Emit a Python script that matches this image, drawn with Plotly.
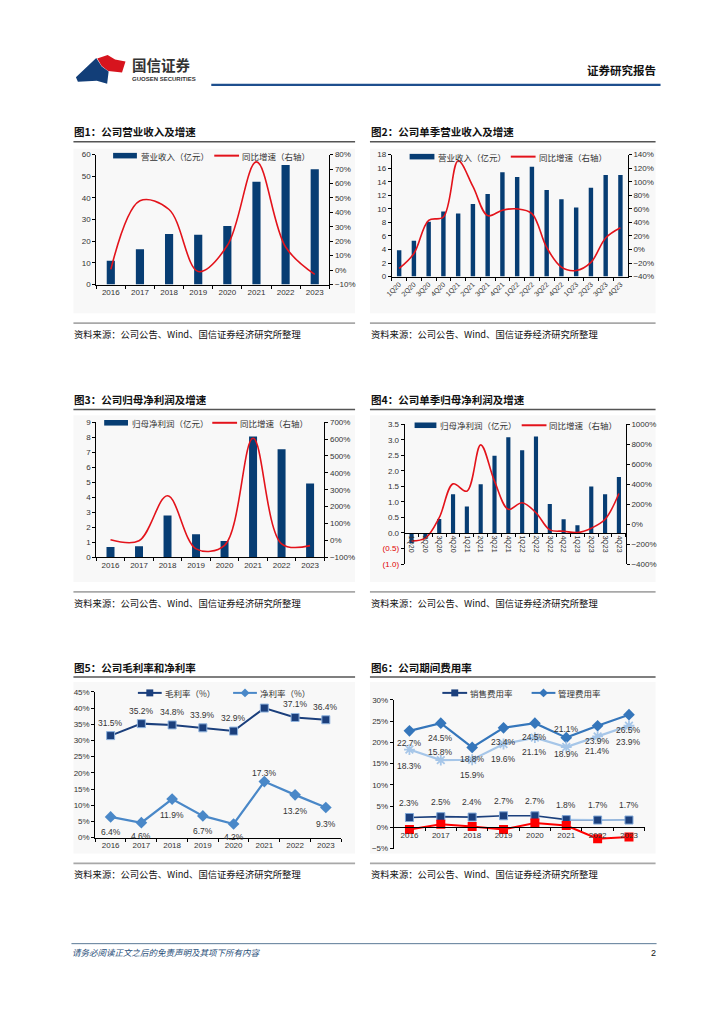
import plotly.graph_objects as go

W, H = 724, 1024
def X(p): return p / W
def Y(p): return 1 - p / H

# ---------------- data ----------------
years = ['2016', '2017', '2018', '2019', '2020', '2021', '2022', '2023']
revenue = [11.0, 16.3, 23.3, 23.0, 27.0, 47.5, 55.2, 53.3]
revenue_yoy = [0.5, 48, 42, -1, 17, 75, 16, -3]

quarters = ['1Q20', '2Q20', '3Q20', '4Q20', '1Q21', '2Q21', '3Q21', '4Q21',
            '1Q22', '2Q22', '3Q22', '4Q22', '1Q23', '2Q23', '3Q23', '4Q23']
q_revenue = [3.9, 5.3, 8.1, 9.6, 9.3, 10.7, 12.2, 15.4, 14.7, 16.2, 12.8, 11.4, 10.2, 13.1, 15.0, 15.0]
q_revenue_yoy = [-28, -6, 43, 48, 131, 93, 50, 58, 60, 53, 3, -26, -31, -19, 17, 32]

net_profit = [0.68, 0.72, 2.78, 1.52, 1.08, 8.05, 7.20, 4.92]
net_profit_yoy = [3, -3, 264, -51, -30, 605, -21, -32]

q_net_profit = [-0.32, -0.18, 0.45, 1.25, 0.85, 1.57, 2.49, 3.08,
                2.66, 3.11, 0.93, 0.44, 0.25, 1.50, 1.25, 1.80]
q_net_profit_yoy = [-168, -141, 64, 403, 330, 794, 430, 148,
                    214, 114, -58, -71, -85, -41, 48, 307]

gross_margin = [31.5, 35.2, 34.8, 33.9, 32.9, 40.0, 37.1, 36.4]
gross_label = ['31.5%', '35.2%', '34.8%', '33.9%', '32.9%', '', '37.1%', '36.4%']
net_margin = [6.4, 4.6, 11.9, 6.7, 4.2, 17.3, 13.2, 9.3]

sales_ratio = [2.3, 2.5, 2.4, 2.7, 2.7, 1.8, 1.7, 1.7]
admin_ratio = [22.7, 24.5, 18.8, 23.4, 24.5, 21.1, 23.9, 26.5]
admin_ex_rd_ratio = [18.3, 15.8, 15.9, 19.6, 21.1, 18.9, 21.4, 23.9]
fin_ratio = [-0.5, 0.7, 0.2, -0.5, 1.0, 0.4, -2.7, -2.3]

q_np_tickvals = [-1.0, -0.5, 0.0, 0.5, 1.0, 1.5, 2.0, 2.5, 3.0, 3.5]

# ---------------- styles ----------------
NAVY = '#073d73'
RED = '#e3131b'
CJK = 'Noto Sans CJK SC'
NUM = 'Liberation Sans, Arial, sans-serif'
TICKF = dict(family=NUM, size=8, color='#333333')

fig = go.Figure()

# chart 1
fig.add_trace(go.Bar(x=years, y=revenue, xaxis='x', yaxis='y', marker=dict(color=NAVY, line=dict(width=0)), width=0.28))
fig.add_trace(go.Scatter(x=years, y=revenue_yoy, xaxis='x', yaxis='y2', mode='lines',
                         line=dict(color=RED, width=1.6, shape='spline', smoothing=1.0)))
# chart 2
fig.add_trace(go.Bar(x=quarters, y=q_revenue, xaxis='x2', yaxis='y3', marker=dict(color=NAVY, line=dict(width=0)), width=0.3))
fig.add_trace(go.Scatter(x=quarters, y=q_revenue_yoy, xaxis='x2', yaxis='y4', mode='lines',
                         line=dict(color=RED, width=1.6, shape='spline', smoothing=1.0)))
# chart 3
fig.add_trace(go.Bar(x=years, y=net_profit, xaxis='x3', yaxis='y5', marker=dict(color=NAVY, line=dict(width=0)), width=0.28))
fig.add_trace(go.Scatter(x=years, y=net_profit_yoy, xaxis='x3', yaxis='y6', mode='lines',
                         line=dict(color=RED, width=1.6, shape='spline', smoothing=1.0)))
# chart 4
fig.add_trace(go.Bar(x=quarters, y=q_net_profit, xaxis='x4', yaxis='y7', marker=dict(color=NAVY, line=dict(width=0)), width=0.3))
fig.add_trace(go.Scatter(x=quarters, y=q_net_profit_yoy, xaxis='x4', yaxis='y8', mode='lines',
                         line=dict(color=RED, width=1.6, shape='spline', smoothing=1.0)))
# chart 5
fig.add_trace(go.Scatter(x=years, y=gross_margin, xaxis='x5', yaxis='y9', mode='lines+markers',
                         line=dict(color='#1b3f7c', width=2),
                         marker=dict(symbol='square', size=8, color='#1b3f7c', line=dict(color='#8fb3de', width=1))))
fig.add_trace(go.Scatter(x=years, y=net_margin, xaxis='x5', yaxis='y9', mode='lines+markers',
                         line=dict(color='#4a88c8', width=2.2),
                         marker=dict(symbol='diamond', size=9, color='#4a88c8')))
# chart 6
fig.add_trace(go.Scatter(x=years, y=admin_ratio, xaxis='x6', yaxis='y10', mode='lines+markers',
                         line=dict(color='#3576bb', width=2.2),
                         marker=dict(symbol='diamond', size=9, color='#3576bb')))
fig.add_trace(go.Scatter(x=years, y=admin_ex_rd_ratio, xaxis='x6', yaxis='y10', mode='lines+markers',
                         line=dict(color='#a6c6e8', width=2.2),
                         marker=dict(symbol='asterisk-open', size=9, color='#a6c6e8', line=dict(color='#a6c6e8', width=1.8))))
fig.add_trace(go.Scatter(x=years, y=sales_ratio, xaxis='x6', yaxis='y10', mode='lines',
                         line=dict(color='#1b3f7c', width=1.6)))
fig.add_trace(go.Scatter(x=years[5:], y=sales_ratio[5:], xaxis='x6', yaxis='y10', mode='lines',
                         line=dict(color='#a6c6e8', width=1.8)))
fig.add_trace(go.Scatter(x=years, y=sales_ratio, xaxis='x6', yaxis='y10', mode='markers',
                         marker=dict(symbol='square', size=8, color='#1b3f7c', line=dict(color='#7fa6d6', width=1))))
fig.add_trace(go.Scatter(x=years, y=fin_ratio, xaxis='x6', yaxis='y10', mode='lines+markers',
                         line=dict(color='#ff0000', width=2),
                         marker=dict(symbol='square', size=9, color='#ff0000')))


def xax(l, r, anchor, n, **kw):
    d = dict(domain=[X(l), X(r)], anchor=anchor, type='category', range=[-0.5, n - 0.5],
             showline=True, linecolor='#000000', linewidth=1, ticks='outside', tickson='boundaries',
             ticklen=3, tickcolor='#000000', showgrid=False, zeroline=False, tickfont=TICKF,
             fixedrange=True)
    d.update(kw)
    return d


def yax(top, bot, anchor, rng, dtick, **kw):
    d = dict(domain=[Y(bot), Y(top)], anchor=anchor, range=rng, dtick=dtick, tick0=rng[0],
             showline=True, linecolor='#000000', linewidth=1, ticks='outside', ticklen=3,
             tickcolor='#000000', showgrid=False, zeroline=False, tickfont=TICKF, fixedrange=True)
    d.update(kw)
    return d


def y2ax(over, anchor, rng, dtick, **kw):
    d = dict(overlaying=over, side='right', anchor=anchor, range=rng, dtick=dtick, tick0=rng[0],
             showline=True, linecolor='#000000', linewidth=1, ticks='outside', ticklen=3,
             tickcolor='#000000', showgrid=False, zeroline=False, tickfont=TICKF, ticksuffix='%',
             fixedrange=True)
    d.update(kw)
    return d


red_span = lambda s: '<span style="color:#e00000">' + s + '</span>'
q_np_ticktext = [red_span('(%.1f)' % abs(v)) if v < 0 else '%.1f' % v for v in q_np_tickvals]

layout_axes = dict(
    xaxis=xax(91, 326, 'y', 8),
    yaxis=yax(152, 283, 'x', [0, 60], 10),
    yaxis2=y2ax('y', 'x', [-10, 80], 10),

    xaxis2=xax(389, 627, 'y3', 16, tickangle=-45, tickfont=dict(family=NUM, size=7, color='#333')),
    yaxis3=yax(152, 275, 'x2', [0, 18], 2),
    yaxis4=y2ax('y3', 'x2', [-40, 140], 20),

    xaxis3=xax(91, 321, 'y5', 8),
    yaxis5=yax(422, 558, 'x3', [0, 9], 1),
    yaxis6=y2ax('y5', 'x3', [-100, 700], 100),

    xaxis4=xax(402, 625, 'free', 16, position=Y(533.7), tickangle=90,
               tickfont=dict(family=NUM, size=7, color='#333')),
    yaxis7=yax(424, 565, 'x4', [-1, 3.5], 0.5, tickmode='array', tickvals=q_np_tickvals, ticktext=q_np_ticktext),
    yaxis8=y2ax('y7', 'x4', [-400, 1000], 200),

    xaxis5=xax(90, 338, 'y9', 8),
    yaxis9=yax(694, 841, 'x5', [0, 45], 5, ticksuffix='%'),

    xaxis6=xax(391, 644, 'free', 8, position=Y(830.3)),
    yaxis10=yax(702, 852, 'x6', [-5, 30], 5, ticksuffix='%'),
)

shapes = []
annotations = []


def txt(x, y, s, size=9, color='#222222', xanchor='left', family=CJK, **kw):
    a = dict(xref='paper', yref='paper', x=X(x), y=Y(y), text=s, showarrow=False,
             xanchor=xanchor, yanchor='middle', borderpad=0, font=dict(family=family, size=size, color=color))
    a.update(kw)
    annotations.append(a)


def line(x0, y0, x1, y1, color, width):
    shapes.append(dict(type='line', xref='paper', yref='paper', x0=X(x0), y0=Y(y0), x1=X(x1), y1=Y(y1),
                       line=dict(color=color, width=width), layer='above'))


def rect(x0, y0, x1, y1, fill, layer='below', lc=None):
    shapes.append(dict(type='rect', xref='paper', yref='paper', x0=X(x0), y0=Y(y0), x1=X(x1), y1=Y(y1),
                       fillcolor=fill, line=dict(width=0 if lc is None else 1, color=lc or fill), layer=layer))


# ---------- header ----------
def path(pts, fill):
    d = 'M ' + ' L '.join('%f %f' % (X(a), Y(b)) for a, b in pts) + ' Z'
    shapes.append(dict(type='path', xref='paper', yref='paper', path=d, fillcolor=fill,
                       line=dict(width=0), layer='above'))

path([(92, 55), (102.5, 51.5), (110, 56), (120.5, 58), (117, 69), (103, 67.5), (96.5, 62.5)], '#d7141e')
path([(70.5, 74), (91, 54.5), (96.5, 63), (103.5, 68), (102, 80.5), (91.5, 77.5), (72.5, 78.5)], '#123e78')
txt(126, 61, '<b>国信证券</b>', size=14.5, color='#333333')
txt(126, 76, '<b>GUOSEN SECURITIES</b>', size=6, color='#333333', family=NUM)
txt(656, 67, '<b>证券研究报告</b>', size=11.5, color='#111111', xanchor='right')
line(207, 81.5, 660, 81.5, '#1e4f8e', 2.2)

# ---------- footer ----------
line(66, 948, 656, 948, '#5b7a96', 1)
txt(66, 956, '<i>请务必阅读正文之后的免责声明及其项下所有内容</i>', size=8.5, color='#1f4e79')
txt(656, 957, '2', size=9, color='#111111', xanchor='right', family=NUM)

# ---------- panels ----------
panels = [
    (68, 352, 129, '图1：公司营业收入及增速', 146, 312, 322),
    (367, 655, 129, '图2：公司单季营业收入及增速', 146, 312, 322),
    (68, 352, 399, '图3：公司归母净利润及增速', 415, 583, 593),
    (367, 655, 399, '图4：公司单季归母净利润及增速', 415, 583, 593),
    (68, 352, 669, '图5：公司毛利率和净利率', 684, 857, 867),
    (367, 655, 669, '图6：公司期间费用率', 684, 857, 867),
]
for (l, r, ty, title, bg0, bg1, bl) in panels:
    txt(l, ty, '<b>' + title + '</b>', size=10.5, color='#111111')
    line(l, ty + 10, r, ty + 10, '#555555', 1.5)
    rect(l, bg0, r, bg1, '#f8f8f8')
    line(l, bl, r, bl, '#a8a8a8', 1.8)
    txt(l, bl + 11, '资料来源：公司公告、Wind、国信证券经济研究所整理', size=9.3, color='#111111')

# ---------- legends ----------
def leg_bar(x0, x1, y, label):
    rect(x0, y - 2.8, x1, y + 2.8, NAVY, layer='above')
    txt(x1 + 3, y, label, size=8.5, color='#333333')


def leg_line(x0, x1, y, label, color=RED, marker=None, mcolor=None):
    line(x0, y, x1, y, color, 2)
    if marker == 'square':
        c = (x0 + x1) / 2
        rect(c - 3.5, y - 3.5, c + 3.5, y + 3.5, mcolor or color, layer='above')
    elif marker == 'diamond':
        c = (x0 + x1) / 2
        path([(c, y - 4.5), (c + 4.5, y), (c, y + 4.5), (c - 4.5, y)], mcolor or color)
    txt(x1 + 2, y, label, size=8.5, color='#333333')

leg_bar(108, 132, 153, '营业收入（亿元）')
leg_line(210, 235, 153, '同比增速（右轴）')
leg_bar(407, 432, 154, '营业收入（亿元）')
leg_line(509, 534, 154, '同比增速（右轴）')
leg_bar(99, 123, 422.5, '归母净利润（亿元）')
leg_line(208, 233, 422.5, '同比增速（右轴）')
leg_bar(412, 434, 425, '归母净利润（亿元）')
leg_line(520, 545, 425, '同比增速（右轴）')
leg_line(133, 157, 695, '毛利率（%）', color='#1b3f7c', marker='square')
leg_line(229, 253, 695, '净利率（%）', color='#4a88c8', marker='diamond')
leg_line(440, 465, 695, '销售费用率', color='#1b3f7c', marker='square')
leg_line(530, 554, 695, '管理费用率', color='#3576bb', marker='diamond')

# ---------- data labels ----------
LBL = dict(family=NUM, size=8.5, color='#333333')

def dlabel(xref, yref, idx, yv, s, shift):
    annotations.append(dict(xref=xref, yref=yref, x=idx, y=yv, text=s, showarrow=False, borderpad=0,
                            yshift=shift, xanchor='center', yanchor='middle', font=LBL))

net_shift = [-15, -13, -16, -15, -13, 9, -16, -16]
for i in range(len(years)):
    if gross_label[i]:
        dlabel('x5', 'y9', i, gross_margin[i], gross_label[i], 13)
    dlabel('x5', 'y9', i, net_margin[i], '%.1f%%' % net_margin[i], net_shift[i])

admin_shift = [-12, -15, -12, -14, -14, 9, -15, -15]
admin_ex_shift = [-16, 8, -15, -15, -14, -7, -15, -16]
for i in range(len(years)):
    dlabel('x6', 'y10', i, admin_ratio[i], '%.1f%%' % admin_ratio[i], admin_shift[i])
    dlabel('x6', 'y10', i, admin_ex_rd_ratio[i], '%.1f%%' % admin_ex_rd_ratio[i], admin_ex_shift[i])
    dlabel('x6', 'y10', i, sales_ratio[i], '%.1f%%' % sales_ratio[i], 15)

fig.update_layout(
    width=W, height=H, margin=dict(l=0, r=0, t=0, b=0),
    paper_bgcolor='#ffffff', plot_bgcolor='rgba(0,0,0,0)',
    showlegend=False, bargap=0.5,
    shapes=shapes, annotations=annotations,
    font=dict(family=CJK, size=9, color='#333333'),
    **layout_axes,
)

fig.write_html('out.html', config={'displayModeBar': False},
               post_script="document.body.style.margin='0';document.body.style.padding='0';")
